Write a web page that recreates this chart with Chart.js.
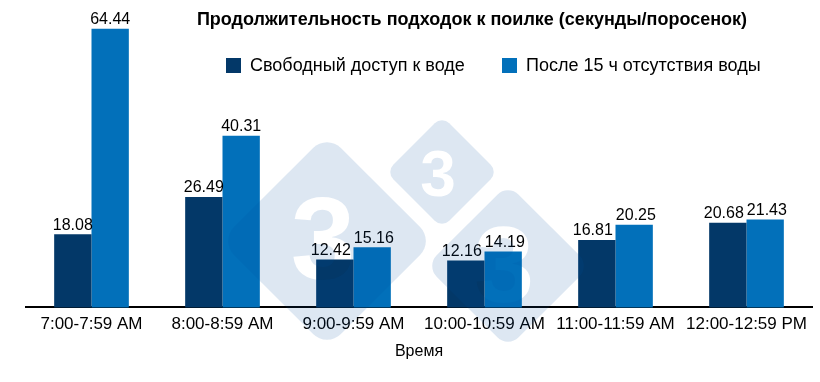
<!DOCTYPE html>
<html>
<head>
<meta charset="utf-8">
<script src="https://cdn.jsdelivr.net/npm/chart.js@4"></script>
<style>
  body { margin: 0; background: #fff; font-family: "Liberation Sans", Arial, sans-serif; }
  #wrap { position: relative; width: 820px; height: 382px; }
  #title { position: absolute; left: 0; width: 944px; top: 9px; text-align: center; font-weight: bold; font-size: 18px; color: #000; }
  .leg { position: absolute; top: 54px; font-size: 18px; color: #000; white-space: nowrap; line-height: 22px; }
  .leg span { display: inline-block; width: 15px; height: 15px; margin-right: 9px; vertical-align: -2px; }
</style>
</head>
<body>
<div id="wrap">
  <canvas id="c" width="820" height="382"></canvas>
  <div id="title">Продолжительность подходок к поилке (секунды/поросенок)</div>
  <div class="leg" style="left:226px"><span style="background:#033868"></span>Свободный доступ к воде</div>
  <div class="leg" style="left:502px"><span style="background:#0270BA"></span>После 15 ч отсутствия воды</div>
</div>
<script>
// данные графика
const categories = ['7:00-7:59 AM', '8:00-8:59 AM', '9:00-9:59 AM', '10:00-10:59 AM', '11:00-11:59 AM', '12:00-12:59 PM'];
const freeAccess = [18.08, 26.49, 12.42, 12.16, 16.81, 20.68];
const after15h = [64.44, 40.31, 15.16, 14.19, 20.25, 21.43];
const seriesNames = ['Свободный доступ к воде', 'После 15 ч отсутствия воды'];

const FONT = '"Liberation Sans", Arial, sans-serif';

// водяной знак: полупрозрачные ромбы с вырезанной цифрой 3, поверх графика
const watermark = {
    id: 'watermark',
    afterDraw(chart) {
        const off = document.createElement('canvas');
        off.width = chart.width;
        off.height = chart.height;
        const o = off.getContext('2d');
        // [x, y, полудиагональ, размер шрифта]
        const marks = [[327, 241, 107, 116], [442, 172, 56, 64], [508, 266, 82, 108]];
        marks.forEach(function(m) {
            const s = m[2] * Math.SQRT2;
            o.save();
            o.translate(m[0], m[1]);
            o.rotate(Math.PI / 4);
            o.fillStyle = 'rgb(0,80,160)';
            o.beginPath();
            o.roundRect(-s / 2, -s / 2, s, s, s * 0.13);
            o.fill();
            o.restore();
        });
        marks.forEach(function(m) {
            o.save();
            o.globalCompositeOperation = 'destination-out';
            o.font = 'bold ' + m[3] + 'px ' + FONT;
            o.textAlign = 'center';
            o.textBaseline = 'middle';
            o.fillText('3', m[0] - 4, m[1] + 6);
            o.restore();
        });
        const ctx = chart.ctx;
        ctx.save();
        ctx.globalAlpha = 0.135;
        ctx.drawImage(off, 0, 0);
        ctx.restore();
    }
};

// подписи значений над столбцами (левая подпись сдвигается, если мешает правой)
const valueLabels = {
    id: 'valueLabels',
    afterDatasetsDraw(chart) {
        const ctx = chart.ctx;
        ctx.save();
        ctx.font = '16px ' + FONT;
        ctx.fillStyle = '#000';
        ctx.textAlign = 'center';
        ctx.textBaseline = 'bottom';
        const m0 = chart.getDatasetMeta(0).data;
        const m1 = chart.getDatasetMeta(1).data;
        categories.forEach(function(c, j) {
            const t0 = freeAccess[j].toFixed(2), t1 = after15h[j].toFixed(2);
            const w0 = ctx.measureText(t0).width, w1 = ctx.measureText(t1).width;
            let x0 = m0[j].x, x1 = m1[j].x;
            const overlap = (x0 + w0 / 2) - (x1 - w1 / 2) + 3;
            if (overlap > 0 && Math.abs(m0[j].y - m1[j].y) < 18) {
                x0 -= overlap * 0.7;
                x1 += overlap * 0.3;
            }
            ctx.fillText(t0, x0, m0[j].y - 1);
            ctx.fillText(t1, x1, m1[j].y - 1);
        });
        ctx.restore();
    }
};

new Chart(document.getElementById('c').getContext('2d'), {
    type: 'bar',
    data: {
        labels: categories,
        datasets: [
            { label: seriesNames[0], data: freeAccess, backgroundColor: '#033868' },
            { label: seriesNames[1], data: after15h, backgroundColor: '#0270BA' }
        ]
    },
    options: {
        responsive: false,
        animation: false,
        categoryPercentage: 0.57,
        barPercentage: 1.0,
        layout: { padding: { top: 6, right: 8, bottom: 17, left: 26 } },
        scales: {
            x: {
                grid: { display: false, drawTicks: false },
                border: { display: true, color: '#000', width: 2 },
                ticks: { color: '#000', padding: 7, font: { size: 17, family: FONT } },
                title: { display: true, text: 'Время', color: '#000', padding: { top: 0, bottom: 4 },
                         font: { size: 16, family: FONT } }
            },
            y: { display: false, min: 1.6, max: 69.6 }
        },
        plugins: {
            legend: { display: false },
            tooltip: { enabled: false }
        }
    },
    plugins: [valueLabels, watermark]
});
</script>
</body>
</html>
